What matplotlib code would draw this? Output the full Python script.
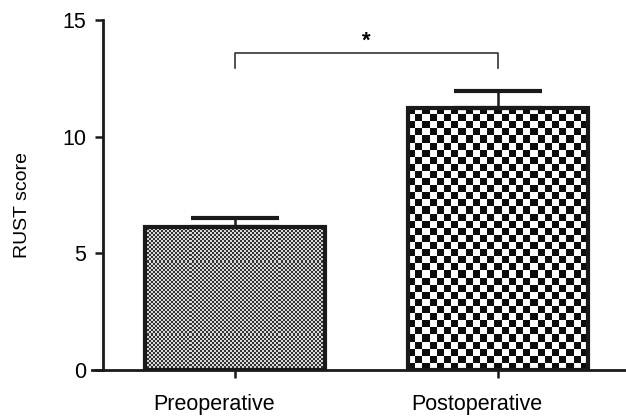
import numpy as np
import matplotlib
matplotlib.use("Agg")
import matplotlib.pyplot as plt
import matplotlib.transforms as mtransforms

# data
groups = ["Preoperative", "Postoperative"]
means = [6.13, 11.23]
errors = [0.37, 0.73]
yticks = [0, 5, 10, 15]
sig_y = 13.6
sig_drop = 0.65

# texture per bar: (cell px, dark colour, light colour)
textures = [(2, 0.2, 0.85), (7, 0.05, 1.0)]

plt.rcParams['font.family'] = ['Liberation Sans', 'DejaVu Sans']

fig = plt.figure(figsize=(6.26, 4.16), dpi=100)
ax = fig.add_axes([92 / 626, 46 / 416, 534 / 626, 350 / 416])

x = np.arange(len(groups))
bars = ax.bar(x, means, width=0.684, facecolor='none', edgecolor='#1a1a1a',
              linewidth=3.0, zorder=3)
ax.errorbar(x, means, yerr=[np.zeros(len(errors)), errors], fmt='none',
            ecolor='#1a1a1a', elinewidth=1.8, capsize=32, capthick=3.0, zorder=2)

ax.set_xlim(-0.5437, 1.4867)
ax.set_ylim(0, 15)

# checkerboard fill clipped to each bar
for rect, (cell, dark, light) in zip(bars, textures):
    bb = rect.get_window_extent()
    nx = max(int(bb.width / cell), 1)
    ny = max(int(bb.height / cell), 1)
    iy, ix = np.indices((ny, nx))
    board = np.where((ix + iy) % 2 == 0, dark, light)
    x0, y0 = rect.get_x(), rect.get_y()
    im = ax.imshow(board, cmap='gray', vmin=0, vmax=1, interpolation='nearest',
                   extent=[x0, x0 + rect.get_width(), y0, y0 + rect.get_height()],
                   aspect='auto', zorder=1)
    im.set_clip_path(rect)

ax.set_xlim(-0.5437, 1.4867)
ax.set_ylim(0, 15)

# axes styling
for s in ['top', 'right']:
    ax.spines[s].set_visible(False)
ax.spines['left'].set_position(('data', -0.5019))
ax.spines['left'].set_linewidth(2.0)
ax.spines['bottom'].set_linewidth(2.0)
ax.spines['left'].set_color('#1a1a1a')
ax.spines['bottom'].set_color('#1a1a1a')
ax.set_yticks(yticks)
ax.set_xticks(x)
ax.set_xticklabels(groups)
ax.tick_params(axis='both', direction='out', length=6, width=1.8, color='#1a1a1a',
               labelsize=15.5)
ax.tick_params(axis='x', pad=11)
ax.tick_params(axis='y', pad=6)
ax.set_ylabel("RUST score", fontsize=14)
ax.yaxis.set_label_coords(-0.114, 0.471)

# category labels sit a little left of their ticks in the original
shift = mtransforms.ScaledTranslation(-21 / 100, 0, fig.dpi_scale_trans)
for lab in ax.get_xticklabels():
    lab.set_transform(lab.get_transform() + shift)

# significance bracket
ax.plot([x[0], x[0], x[1], x[1]],
        [sig_y - sig_drop, sig_y, sig_y, sig_y - sig_drop],
        color='#333333', linewidth=1.2, clip_on=False, zorder=4)
ax.text((x[0] + x[1]) / 2, sig_y + 0.05, "*", ha='center', va='bottom',
        fontsize=16, fontweight='bold')

fig.savefig("out.png", dpi=100)
